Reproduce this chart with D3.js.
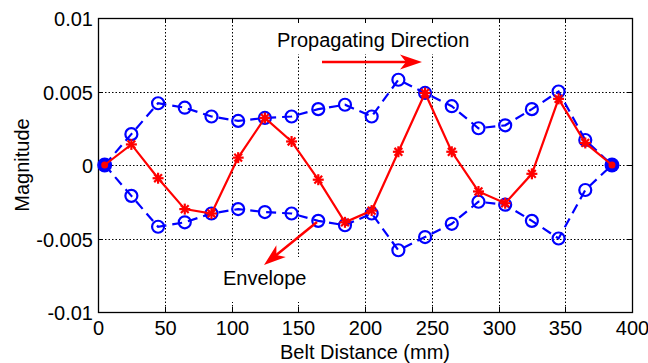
<!DOCTYPE html>
<html>
<head>
<meta charset="utf-8">
<script src="https://cdn.jsdelivr.net/npm/d3@7"></script>
<style>
  body { margin: 0; background: #fff; }
  svg { display: block; font-family: Arial, "Liberation Sans", sans-serif; }
</style>
</head>
<body>
<div id="chart"></div>
<script>
// belt positions (mm)
const positions = [5, 25, 45, 65, 85, 105, 125, 145, 165, 185, 205, 225, 245, 265, 285, 305, 325, 345, 365, 385];
// measured wave (red, stars)
const wave = [0, 0.0014, -0.0009, -0.0030, -0.0033, 0.0005, 0.0032, 0.0016, -0.0010, -0.0039, -0.0031, 0.0009, 0.0049, 0.0009, -0.0018, -0.0026, -0.0006, 0.0045, 0.0015, 0];
// envelope (blue, circles)
const upperEnv = [0, 0.0021, 0.0042, 0.0039, 0.0033, 0.0030, 0.0032, 0.0033, 0.0038, 0.0041, 0.0033, 0.0058, 0.0049, 0.0040, 0.0025, 0.0027, 0.0038, 0.0050, 0.0017, 0];
const lowerEnv = [0, -0.0021, -0.0042, -0.0039, -0.0033, -0.0030, -0.0032, -0.0033, -0.0038, -0.0041, -0.0033, -0.0058, -0.0049, -0.0040, -0.0025, -0.0027, -0.0038, -0.0050, -0.0017, 0];
const xTicks = [0, 50, 100, 150, 200, 250, 300, 350, 400];
const yTicks = [-0.01, -0.005, 0, 0.005, 0.01];
const yTickLabels = ['-0.01', '-0.005', '0', '0.005', '0.01'];

const width = 648, height = 363;
const margin = { left: 98, right: 16, top: 18, bottom: 51 };

const svg = d3.select('#chart').append('svg')
  .attr('width', width)
  .attr('height', height);

const x = d3.scaleLinear().domain([0, 400]).range([margin.left, width - margin.right]);
const y = d3.scaleLinear().domain([-0.01, 0.01]).range([height - margin.bottom, margin.top]);

const x0 = x.range()[0], x1 = x.range()[1];
const y0 = y.range()[0], y1 = y.range()[1];
const blue = '#0000ff', red = '#ff0000';

// grid
const grid = svg.append('g').attr('stroke', '#000').attr('stroke-width', 1).attr('stroke-dasharray', '1.5,2');
xTicks.filter(t => t > 0 && t < 400).forEach(t => {
  grid.append('line').attr('x1', Math.round(x(t)) + 0.5).attr('x2', Math.round(x(t)) + 0.5).attr('y1', y1).attr('y2', y0);
});
yTicks.filter(t => t > -0.01 && t < 0.01).forEach(t => {
  grid.append('line').attr('y1', Math.round(y(t)) + 0.5).attr('y2', Math.round(y(t)) + 0.5).attr('x1', x0).attr('x2', x1);
});

// white boxes behind annotations
svg.append('rect').attr('x', 270).attr('y', y1 + 1).attr('width', 208).attr('height', 35).attr('fill', '#fff');
svg.append('rect').attr('x', 214).attr('y', 257).attr('width', 100).attr('height', 45).attr('fill', '#fff');

// axes (matlab style box with inward ticks)
const tickLen = 5;
const axisG = svg.append('g').attr('font-size', 20).attr('fill', '#000');
axisG.append('rect').attr('x', x0 + 0.5).attr('y', y1 + 0.5).attr('width', x1 - x0).attr('height', y0 - y1)
  .attr('fill', 'none').attr('stroke', '#000').attr('stroke-width', 1.3);
xTicks.forEach(t => {
  const px = Math.round(x(t)) + 0.5;
  axisG.append('line').attr('x1', px).attr('x2', px).attr('y1', y0).attr('y2', y0 - tickLen).attr('stroke', '#000');
  axisG.append('line').attr('x1', px).attr('x2', px).attr('y1', y1).attr('y2', y1 + tickLen).attr('stroke', '#000');
  axisG.append('text').attr('x', px).attr('y', y0 + 23).attr('text-anchor', 'middle').text(t);
});
yTicks.forEach((t, i) => {
  const py = Math.round(y(t)) + 0.5;
  axisG.append('line').attr('x1', x0).attr('x2', x0 + tickLen).attr('y1', py).attr('y2', py).attr('stroke', '#000');
  axisG.append('line').attr('x1', x1).attr('x2', x1 - tickLen).attr('y1', py).attr('y2', py).attr('stroke', '#000');
  axisG.append('text').attr('x', x0 - 5).attr('y', py + 7).attr('text-anchor', 'end').text(yTickLabels[i]);
});
axisG.append('text').attr('x', (x0 + x1) / 2).attr('y', 359).attr('text-anchor', 'middle').text('Belt Distance (mm)');
axisG.append('text').attr('transform', 'translate(29,' + ((y0 + y1) / 2) + ') rotate(-90)')
  .attr('text-anchor', 'middle').text('Magnitude');

// envelope lines
const line = d3.line().x(d => x(d[0])).y(d => y(d[1]));
[upperEnv, lowerEnv].forEach(env => {
  const pts = positions.map((p, i) => [p, env[i]]);
  svg.append('path').attr('d', line(pts)).attr('fill', 'none').attr('stroke', blue)
    .attr('stroke-width', 2.2).attr('stroke-dasharray', '10,6');
  svg.selectAll(null).data(pts.filter((d, i) => upperEnv[i] !== lowerEnv[i])).enter().append('circle')
    .attr('cx', d => x(d[0])).attr('cy', d => y(d[1])).attr('r', 6)
    .attr('fill', 'none').attr('stroke', blue).attr('stroke-width', 2.2);
});
// nodes where both envelopes meet
const nodes = positions.map((p, i) => [p, upperEnv[i]]).filter((d, i) => upperEnv[i] === lowerEnv[i]);
svg.selectAll(null).data(nodes).enter().append('circle')
  .attr('cx', d => x(d[0])).attr('cy', d => y(d[1])).attr('r', 7.5).attr('fill', blue);

// wave line
const wavePts = positions.map((p, i) => [p, wave[i]]);
svg.append('path').attr('d', line(wavePts)).attr('fill', 'none').attr('stroke', red).attr('stroke-width', 2.2);
wavePts.forEach((d, i) => {
  const g = svg.append('g').attr('transform', 'translate(' + x(d[0]) + ',' + y(d[1]) + ')');
  if (upperEnv[i] === lowerEnv[i]) {
    g.append('circle').attr('r', 3.5).attr('fill', red);
  } else {
    [0, 45, 90, 135].forEach(a => {
      g.append('line').attr('x1', -5.5).attr('x2', 5.5).attr('y1', 0).attr('y2', 0)
        .attr('transform', 'rotate(' + a + ')').attr('stroke', red).attr('stroke-width', 2.2);
    });
  }
});

// annotations
function arrow(xa, ya, xb, yb) {
  const ang = Math.atan2(yb - ya, xb - xa) * 180 / Math.PI;
  const len = Math.hypot(xb - xa, yb - ya);
  const g = svg.append('g').attr('transform', 'translate(' + xa + ',' + ya + ') rotate(' + ang + ')');
  g.append('line').attr('x1', 0).attr('y1', 0).attr('x2', len - 10).attr('y2', 0)
    .attr('stroke', red).attr('stroke-width', 2.5);
  g.append('path').attr('d', 'M' + len + ',0 L' + (len - 22) + ',-7.5 L' + (len - 16) + ',0 L' + (len - 22) + ',7.5 Z')
    .attr('fill', red);
}

svg.append('text').attr('x', 277).attr('y', 47).attr('font-size', 20).text('Propagating Direction');
arrow(322, 62, 422, 62);

svg.append('text').attr('x', 223).attr('y', 285).attr('font-size', 20).text('Envelope');
arrow(317, 222, 264, 265);
</script>
</body>
</html>
